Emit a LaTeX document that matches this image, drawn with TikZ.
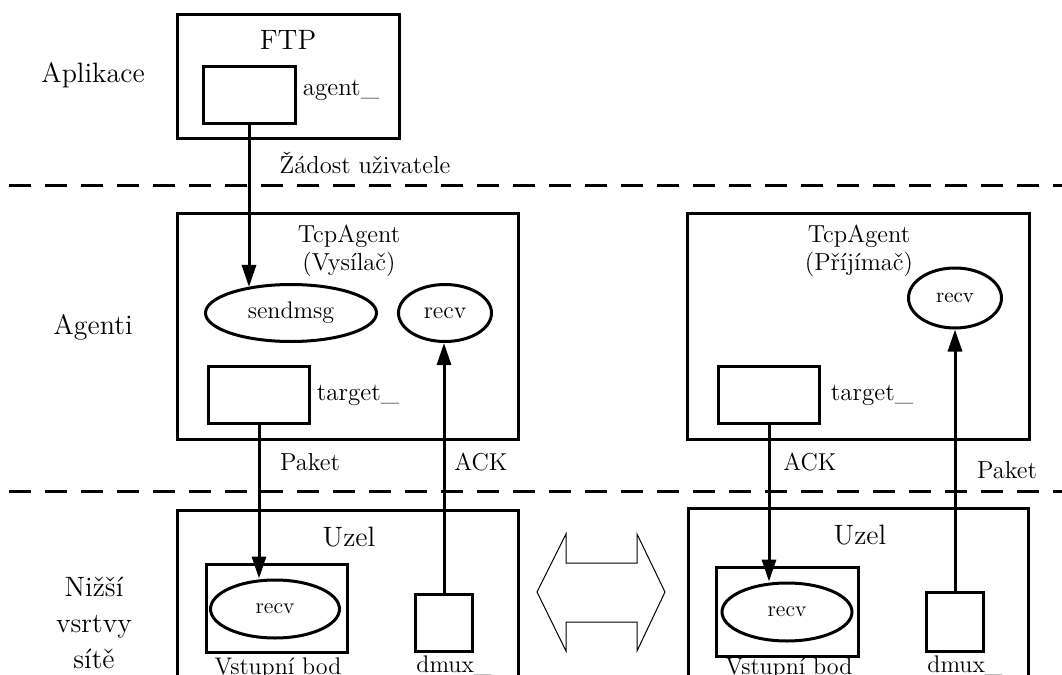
\documentclass[tikz,border=0pt]{standalone}
\usepackage{fontspec}
\usetikzlibrary{arrows.meta,shapes.geometric}
\begin{document}
\begin{tikzpicture}[x=0.5pt,y=-0.5pt,
  box/.style={draw, line width=1.5pt, inner sep=0pt},
  oval/.style={draw, ellipse, line width=1.5pt, inner sep=0pt},
  tag/.style={inner sep=0pt},
  layerlabel/.style={inner sep=0pt, align=center, font=\fontsize{14}{18}\selectfont},
  arr/.style={-{Triangle[length=11pt,width=7pt]}, line width=1.5pt},
  layer/.style={line width=1.5pt, dash pattern=on 11pt off 7pt},
  twin/.style={draw, line width=0.5pt, line join=miter}]
\useasboundingbox (0,0) rectangle (1062,675);
\clip (0,0) rectangle (1062,675);

% layer separators
\draw[layer] (9,185) -- (1062,185);
\draw[layer] (9,491) -- (1062,491);

% layer names
\node[layerlabel] (lapp) at (93,75) {Aplikace};
\node[layerlabel] (lagt) at (93,327) {Agenti};
\node[layerlabel] (lnet) at (94,623) {Nižší\\vsrtvy\\sítě};

% application: FTP
\node[box, minimum width=111pt, minimum height=62pt] (ftp) at (288,76) {};
\node[tag, font=\fontsize{14}{17}\selectfont] (ftpt) at (288,40) {FTP};
\node[box, minimum width=46pt, minimum height=28.5pt] (agentbox) at (249,94.5) {};
\node[tag, font=\fontsize{12.5}{15}\selectfont] (agentt) at (341,90) {agent\_};
\node[tag, font=\fontsize{12.3}{15}\selectfont] (reqt) at (365,163) {Žádost uživatele};

% sending agent
\node[box, minimum width=170.5pt, minimum height=113pt] (tcpL) at (347.5,326) {};
\node[tag, align=center, font=\fontsize{12.3}{14}\selectfont] (tcpLt) at (349,251) {TcpAgent\\(Vysílač)};
\node[oval, minimum width=85.5pt, minimum height=28.5pt, font=\fontsize{12}{15}\selectfont] (sendmsg) at (291,313) {sendmsg};
\node[oval, minimum width=46.5pt, minimum height=28.5pt, font=\fontsize{12}{15}\selectfont] (recvA) at (445,313) {recv};
\node[box, minimum width=50.5pt, minimum height=28.5pt] (targetL) at (259,394.5) {};
\node[tag, font=\fontsize{12.5}{15}\selectfont] (targetLt) at (358,395) {target\_};
\node[tag, font=\fontsize{12.3}{14}\selectfont] (paketL) at (310,462) {Paket};
\node[tag, font=\fontsize{12.2}{14}\selectfont] (ackL) at (481,462) {ACK};

% receiving agent
\node[box, minimum width=171pt, minimum height=113pt] (tcpR) at (858,326) {};
\node[tag, align=center, font=\fontsize{12.3}{14}\selectfont] (tcpRt) at (859,251) {TcpAgent\\(Příjímač)};
\node[oval, minimum width=46.5pt, minimum height=30pt, font=\fontsize{10.5}{13}\selectfont] (recvB) at (955,298) {recv};
\node[box, minimum width=50.5pt, minimum height=28.5pt] (targetR) at (769,394.5) {};
\node[tag, font=\fontsize{12.5}{15}\selectfont] (targetRt) at (872,395) {target\_};
\node[tag, font=\fontsize{12.2}{14}\selectfont] (ackR) at (810,462) {ACK};
\node[tag, font=\fontsize{12.3}{14}\selectfont] (paketR) at (1007,470) {Paket};

% left node
\node[box, minimum width=170.5pt, minimum height=100pt] (nodeL) at (347.5,610) {};
\node[tag, font=\fontsize{14}{16}\selectfont] (nodeLt) at (349,537) {Uzel};
\node[box, minimum width=70.5pt, minimum height=44pt] (entryL) at (276.5,608) {};
\node[oval, minimum width=64.5pt, minimum height=29pt, font=\fontsize{11}{14}\selectfont] (recvL) at (275,609) {recv};
\node[tag, font=\fontsize{12}{15}\selectfont] (entryLt) at (278,668) {Vstupní bod};
\node[box, minimum width=28.5pt, minimum height=28.5pt] (dmuxL) at (444,622.5) {};
\node[tag, font=\fontsize{12}{15}\selectfont] (dmuxLt) at (454,666) {dmux\_};

% right node
\node[box, minimum width=170pt, minimum height=100pt] (nodeR) at (858,608) {};
\node[tag, font=\fontsize{14}{16}\selectfont] (nodeRt) at (860,535) {Uzel};
\node[box, minimum width=71pt, minimum height=44.5pt] (entryR) at (787,611.5) {};
\node[oval, minimum width=65pt, minimum height=29pt, font=\fontsize{11}{14}\selectfont] (recvR) at (787,612) {recv};
\node[tag, font=\fontsize{12}{15}\selectfont] (entryRt) at (789,668) {Vstupní bod};
\node[box, minimum width=28.5pt, minimum height=29.5pt] (dmuxR) at (955,621.5) {};
\node[tag, font=\fontsize{12}{15}\selectfont] (dmuxRt) at (965,666) {dmux\_};

% link between the two nodes
\draw[twin] (537,592) -- (566,534) -- (566,563) -- (637,563) -- (637,534)
  -- (665,592) -- (637,651) -- (637,622) -- (566,622) -- (566,651) -- cycle;

% message flow
\draw[arr] (agentbox.south) -- (agentbox.south |- sendmsg.149);
\draw[arr] (targetL.south) -- (targetL.south |- recvL.north);
\draw[arr] (dmuxL.north) -- (dmuxL.north |- recvA.south);
\draw[arr] (targetR.south) -- (targetR.south |- recvR.north);
\draw[arr] (dmuxR.north) -- (dmuxR.north |- recvB.south);
\end{tikzpicture}
\end{document}
